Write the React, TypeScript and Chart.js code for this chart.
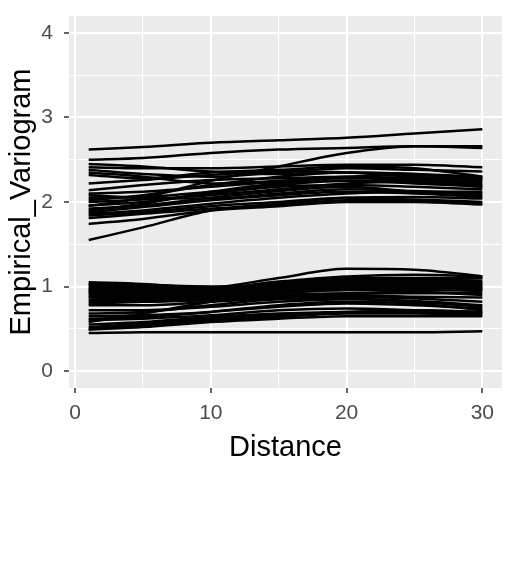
import React, { useEffect, useRef } from "react";
import { Chart, registerables } from "chart.js";

Chart.register(...registerables);

// Distances at which each variogram curve is sampled
const distances = [1, 5, 10, 15, 20, 25, 30];

// Upper cluster of empirical variogram curves
const upperGroup: number[][] = [
  [2.62, 2.65, 2.70, 2.73, 2.76, 2.81, 2.86],
  [2.50, 2.52, 2.58, 2.62, 2.64, 2.66, 2.66],
  [1.95, 2.05, 2.25, 2.42, 2.58, 2.66, 2.64],
  [2.41, 2.40, 2.40, 2.42, 2.44, 2.44, 2.41],
  [2.45, 2.42, 2.36, 2.33, 2.35, 2.33, 2.30],
  [2.38, 2.33, 2.30, 2.35, 2.40, 2.38, 2.36],
  [2.35, 2.30, 2.22, 2.25, 2.30, 2.32, 2.28],
  [2.32, 2.28, 2.35, 2.38, 2.42, 2.40, 2.30],
  [2.22, 2.26, 2.32, 2.36, 2.35, 2.30, 2.27],
  [2.14, 2.20, 2.26, 2.28, 2.30, 2.28, 2.24],
  [2.10, 2.12, 2.18, 2.24, 2.28, 2.26, 2.22],
  [2.08, 2.05, 2.04, 2.10, 2.15, 2.13, 2.10],
  [2.05, 2.06, 2.12, 2.20, 2.25, 2.24, 2.20],
  [2.02, 2.08, 2.20, 2.30, 2.35, 2.33, 2.26],
  [2.00, 2.03, 2.08, 2.15, 2.22, 2.24, 2.18],
  [1.96, 2.00, 2.10, 2.18, 2.20, 2.18, 2.15],
  [1.92, 1.96, 2.05, 2.13, 2.18, 2.12, 2.08],
  [1.90, 1.98, 2.12, 2.22, 2.25, 2.22, 2.18],
  [1.88, 1.94, 2.02, 2.08, 2.12, 2.10, 2.06],
  [1.86, 1.90, 1.98, 2.05, 2.10, 2.12, 2.12],
  [1.84, 1.88, 1.95, 2.00, 2.05, 2.03, 2.00],
  [1.81, 1.86, 1.92, 1.96, 2.02, 2.02, 1.98],
  [1.74, 1.80, 1.90, 1.95, 2.00, 2.00, 1.97],
  [1.55, 1.70, 1.90, 1.98, 2.05, 2.06, 2.04],
];

// Lower cluster of empirical variogram curves
const lowerGroup: number[][] = [
  [0.95, 0.92, 0.98, 1.10, 1.21, 1.20, 1.12],
  [1.05, 1.03, 0.98, 1.06, 1.12, 1.14, 1.12],
  [1.03, 1.02, 1.00, 1.02, 1.06, 1.09, 1.10],
  [1.02, 1.00, 0.96, 1.04, 1.10, 1.10, 1.10],
  [1.00, 0.98, 0.95, 1.02, 1.08, 1.08, 1.07],
  [0.98, 0.96, 0.94, 1.00, 1.05, 1.06, 1.05],
  [0.97, 0.95, 0.90, 0.96, 1.02, 1.03, 1.01],
  [0.95, 0.93, 0.92, 0.98, 1.04, 1.04, 1.03],
  [0.93, 0.92, 0.88, 0.94, 1.00, 1.02, 1.04],
  [0.92, 0.90, 0.92, 0.97, 1.02, 1.02, 1.00],
  [0.90, 0.88, 0.90, 0.95, 0.98, 0.98, 0.98],
  [0.88, 0.86, 0.86, 0.92, 0.99, 1.00, 0.96],
  [0.87, 0.86, 0.88, 0.93, 0.96, 0.96, 0.95],
  [0.84, 0.84, 0.85, 0.90, 0.92, 0.92, 0.92],
  [0.82, 0.82, 0.84, 0.88, 0.90, 0.88, 0.87],
  [0.80, 0.82, 0.86, 0.92, 0.96, 0.94, 0.90],
  [0.78, 0.78, 0.82, 0.86, 0.88, 0.86, 0.82],
  [0.72, 0.72, 0.76, 0.82, 0.85, 0.83, 0.78],
  [0.68, 0.70, 0.78, 0.85, 0.86, 0.82, 0.76],
  [0.65, 0.66, 0.70, 0.76, 0.80, 0.78, 0.74],
  [0.62, 0.64, 0.70, 0.78, 0.82, 0.80, 0.72],
  [0.60, 0.62, 0.66, 0.72, 0.74, 0.72, 0.70],
  [0.55, 0.58, 0.64, 0.68, 0.70, 0.70, 0.68],
  [0.52, 0.56, 0.62, 0.66, 0.70, 0.72, 0.70],
  [0.50, 0.54, 0.60, 0.64, 0.68, 0.68, 0.66],
  [0.49, 0.52, 0.58, 0.62, 0.65, 0.65, 0.65],
  [0.58, 0.68, 0.82, 0.92, 0.98, 1.00, 0.98],
  [0.45, 0.46, 0.46, 0.46, 0.46, 0.46, 0.47],
];

// Axis ticks (major and minor grid positions)
const xTicks = [0, 5, 10, 15, 20, 25, 30];
const xLabelled = [0, 10, 20, 30];
const yTicks = [0, 0.5, 1, 1.5, 2, 2.5, 3, 3.5, 4];
const yLabelled = [0, 1, 2, 3, 4];

const xTitle = "Distance";
const yTitle = "Empirical_Variogram";

const FONT = "'Liberation Sans', Arial, Helvetica, sans-serif";

const panelBg = {
  id: "panelBg",
  beforeDraw(chart: any) {
    const { ctx, chartArea } = chart;
    ctx.save();
    ctx.fillStyle = "#EBEBEB";
    ctx.fillRect(chartArea.left, chartArea.top, chartArea.width, chartArea.height);
    ctx.restore();
  },
};

export default function App() {
  const ref = useRef<HTMLCanvasElement>(null);

  useEffect(() => {
    document.body.style.margin = "0";
    const all = [...upperGroup, ...lowerGroup];
    const datasets = all.map((series, i) => ({
      label: "curve " + (i + 1),
      data: series.map((v, j) => ({ x: distances[j], y: v })),
      borderColor: "#000000",
      borderWidth: 2.5,
      pointRadius: 0,
      fill: false,
      cubicInterpolationMode: "monotone" as const,
    }));

    const chart = new Chart(ref.current!, {
      type: "line",
      data: { datasets },
      plugins: [panelBg],
      options: {
        animation: false,
        responsive: false,
        layout: { padding: { top: 16, right: 13, left: 0, bottom: 109 } },
        plugins: { legend: { display: false }, tooltip: { enabled: false } },
        scales: {
          x: {
            type: "linear",
            min: -0.45,
            max: 31.45,
            afterBuildTicks: (s: any) => {
              s.ticks = xTicks.map((v) => ({ value: v }));
            },
            afterFit: (s: any) => {
              s.height = 90;
              s.paddingLeft = 0;
              s.paddingRight = 0;
            },
            border: { display: false },
            grid: {
              color: "#FFFFFF",
              lineWidth: (c: any) => (xLabelled.includes(c.tick?.value) ? 2 : 1.1),
              tickColor: (c: any) => (xLabelled.includes(c.tick?.value) ? "#333333" : "rgba(0,0,0,0)"),
              tickLength: 5,
              tickWidth: 1.5,
            },
            ticks: {
              autoSkip: false,
              maxRotation: 0,
              padding: 8,
              color: "#4D4D4D",
              font: { family: FONT, size: 21 },
              callback: (v: any) => (xLabelled.includes(Number(v)) ? String(v) : ""),
            },
            title: {
              display: true,
              text: xTitle,
              color: "#000000",
              font: { family: FONT, size: 29 },
              padding: { top: 0, bottom: 13 },
            },
          },
          y: {
            type: "linear",
            min: -0.2,
            max: 4.2,
            afterBuildTicks: (s: any) => {
              s.ticks = yTicks.map((v) => ({ value: v }));
            },
            afterFit: (s: any) => {
              s.width = 69;
              s.paddingTop = 0;
              s.paddingBottom = 0;
            },
            border: { display: false },
            grid: {
              color: "#FFFFFF",
              lineWidth: (c: any) => (yLabelled.includes(c.tick?.value) ? 2 : 1.1),
              tickColor: (c: any) => (yLabelled.includes(c.tick?.value) ? "#333333" : "rgba(0,0,0,0)"),
              tickLength: 5,
              tickWidth: 1.5,
            },
            ticks: {
              autoSkip: false,
              padding: 11,
              color: "#4D4D4D",
              font: { family: FONT, size: 21 },
              callback: (v: any) => (yLabelled.includes(Number(v)) ? String(v) : ""),
            },
            title: {
              display: true,
              text: yTitle,
              color: "#000000",
              font: { family: FONT, size: 29 },
              padding: { top: 5, bottom: 0 },
            },
          },
        },
      },
    });
    return () => chart.destroy();
  }, []);

  return (
    <div style={{ width: 515, height: 587, background: "#FFFFFF" }}>
      <canvas ref={ref} width={515} height={587} style={{ display: "block" }} />
    </div>
  );
}
